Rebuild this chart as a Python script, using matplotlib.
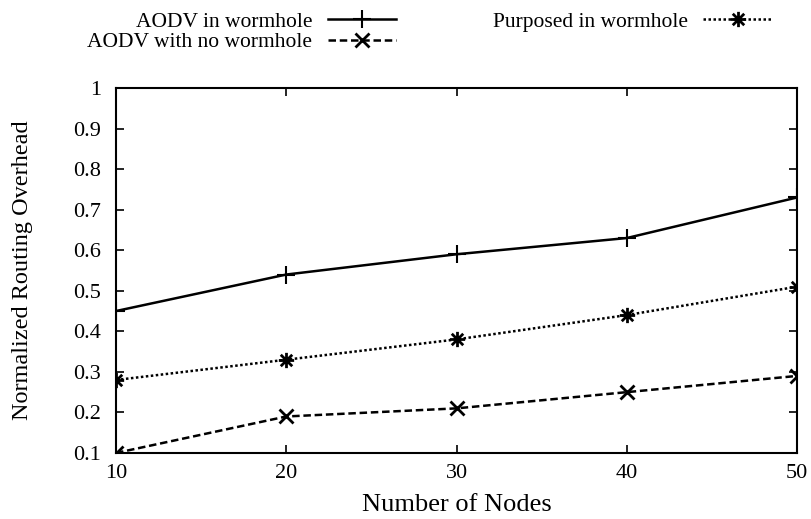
import numpy as np
import matplotlib.pyplot as plt
from matplotlib.path import Path

plt.rcParams['font.family'] = ['Liberation Serif', 'DejaVu Serif']

# dados
nodes = [10, 20, 30, 40, 50]
aodv_worm = [0.45, 0.54, 0.59, 0.63, 0.73]
aodv_no_worm = [0.10, 0.19, 0.21, 0.25, 0.29]
purposed_worm = [0.28, 0.33, 0.38, 0.44, 0.51]
yticks = [0.1, 0.2, 0.3, 0.4, 0.5, 0.6, 0.7, 0.8, 0.9, 1.0]
ytick_labels = ['0.1', '0.2', '0.3', '0.4', '0.5', '0.6', '0.7', '0.8', '0.9', '1']

# marcador tipo asterisco do gnuplot (+ e x juntos)
star = Path([(-1, 0), (1, 0), (0, -1), (0, 1),
             (-0.75, -0.75), (0.75, 0.75), (-0.75, 0.75), (0.75, -0.75)],
            [Path.MOVETO, Path.LINETO] * 4)

fig = plt.figure(figsize=(8.12, 5.19), dpi=100)
ax = fig.add_axes([0.1429, 0.1272, 0.8387, 0.7033])

l1, = ax.plot(nodes, aodv_worm, color='black', linestyle='-', linewidth=1.8,
              marker='+', markersize=13, markeredgewidth=1.5,
              label='AODV in wormhole')
l2, = ax.plot(nodes, aodv_no_worm, color='black', linestyle=(0, (3, 1.5)), linewidth=1.8,
              marker='x', markersize=10, markeredgewidth=2,
              label='AODV with no wormhole')
l3, = ax.plot(nodes, purposed_worm, color='black', linestyle=(0, (1, 1)), linewidth=1.8,
              marker=star, markersize=11, markeredgewidth=2,
              label='Purposed in wormhole')

ax.set_xlim(10, 50)
ax.set_ylim(0.1, 1.0)
ax.set_xticks(nodes)
ax.set_yticks(yticks)
ax.set_yticklabels(ytick_labels)
ax.tick_params(direction='in', top=True, right=True, length=5.5, width=1.2,
               labelsize=16)
ax.tick_params(axis='x', pad=8)
ax.tick_params(axis='y', pad=11)
for s in ax.spines.values():
    s.set_linewidth(1.5)

ax.set_xlabel('Number of Nodes', fontsize=19, labelpad=8)
ax.set_ylabel('Normalized Routing Overhead', fontsize=17.5)
ax.yaxis.set_label_coords(-0.122, 0.5)

fig.legend(handles=[l1, l2, l3], ncols=2, markerfirst=False, frameon=False,
           loc='upper right', bbox_to_anchor=(783 / 812, 0.998), fontsize=15.5,
           borderpad=0, handlelength=3.2, handletextpad=0.7,
           columnspacing=4.5, labelspacing=0.02)

fig.savefig('out.png', dpi=100)
